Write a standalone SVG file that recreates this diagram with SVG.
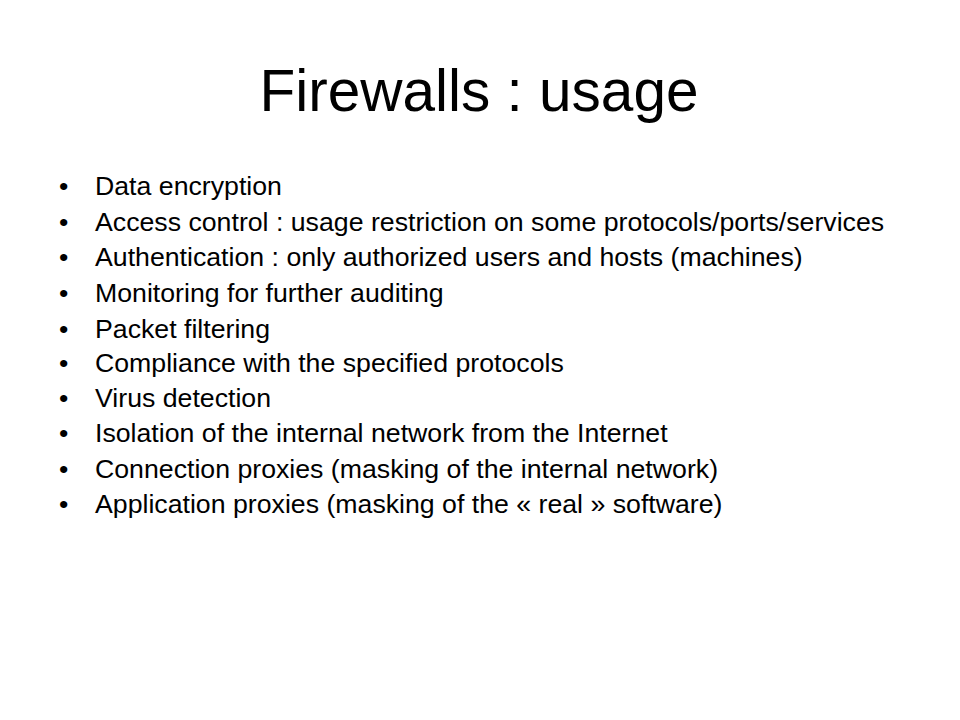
<svg xmlns="http://www.w3.org/2000/svg" width="960" height="720" viewBox="0 0 960 720">
<style>
.title{font-family:"Liberation Sans",Arial,sans-serif;font-size:58.5px;fill:#000}
.b{font-family:"Liberation Sans",Arial,sans-serif;font-size:26.7px;fill:#000}
</style>
<rect width="960" height="720" fill="#fff"/>
<g id="title"><text class="title" x="479" y="111" text-anchor="middle">Firewalls : usage</text></g>
<g id="bullets">
<g id="b1"><text class="b" x="59" y="195">•</text><text class="b" x="95" y="195">Data encryption</text></g>
<g id="b2"><text class="b" x="59" y="231">•</text><text class="b" x="95" y="231">Access control : usage restriction on some protocols/ports/services</text></g>
<g id="b3"><text class="b" x="59" y="266">•</text><text class="b" x="95" y="266">Authentication : only authorized users and hosts (machines)</text></g>
<g id="b4"><text class="b" x="59" y="302">•</text><text class="b" x="95" y="302">Monitoring for further auditing</text></g>
<g id="b5"><text class="b" x="59" y="338">•</text><text class="b" x="95" y="338">Packet filtering</text></g>
<g id="b6"><text class="b" x="59" y="372">•</text><text class="b" x="95" y="372">Compliance with the specified protocols</text></g>
<g id="b7"><text class="b" x="59" y="407">•</text><text class="b" x="95" y="407">Virus detection</text></g>
<g id="b8"><text class="b" x="59" y="442">•</text><text class="b" x="95" y="442">Isolation of the internal network from the Internet</text></g>
<g id="b9"><text class="b" x="59" y="478">•</text><text class="b" x="95" y="478">Connection proxies (masking of the internal network)</text></g>
<g id="b10"><text class="b" x="59" y="513">•</text><text class="b" x="95" y="513">Application proxies (masking of the « real » software)</text></g>
</g>
</svg>
